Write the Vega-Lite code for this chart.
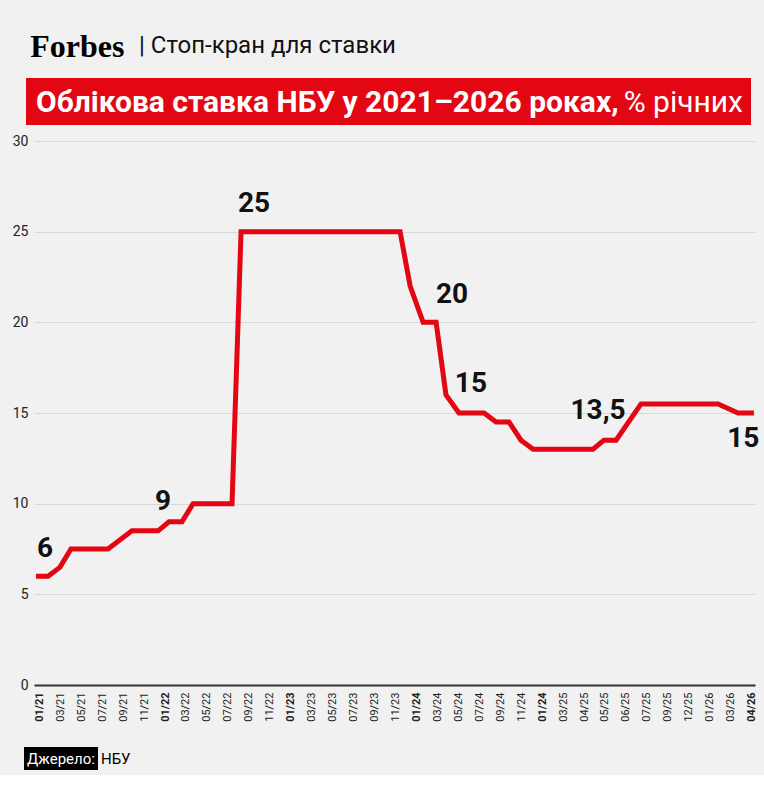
{
  "$schema": "https://vega.github.io/schema/vega-lite/v6.json",
  "description": "Облікова ставка НБУ у 2021–2026 роках",
  "background": "#f1f1f1",
  "padding": {"left": 12, "top": 31, "right": 5, "bottom": 5},
  "title": {
    "text": "Forbes",
    "font": "Liberation Serif, DejaVu Serif, serif",
    "fontSize": 32,
    "fontWeight": "bold",
    "color": "#000000",
    "anchor": "start",
    "dx": 18,
    "offset": -30
  },
  "bounds": "flush",
  "spacing": 16,
  "config": {
    "view": {"stroke": null}
  },
  "datasets": {
    "rate": [
      {"t": -0.16, "rate": 6},
      {"t": 0.42, "rate": 6},
      {"t": 0.99, "rate": 6.5},
      {"t": 1.51, "rate": 7.5},
      {"t": 3.28, "rate": 7.5},
      {"t": 4.42, "rate": 8.5},
      {"t": 5.67, "rate": 8.5},
      {"t": 6.19, "rate": 9},
      {"t": 6.81, "rate": 9},
      {"t": 7.34, "rate": 10},
      {"t": 9.2, "rate": 10},
      {"t": 9.63, "rate": 25},
      {"t": 17.22, "rate": 25},
      {"t": 17.7, "rate": 22},
      {"t": 18.32, "rate": 20},
      {"t": 18.94, "rate": 20},
      {"t": 19.41, "rate": 16},
      {"t": 20.03, "rate": 15},
      {"t": 21.23, "rate": 15},
      {"t": 21.8, "rate": 14.5},
      {"t": 22.42, "rate": 14.5},
      {"t": 22.99, "rate": 13.5},
      {"t": 23.57, "rate": 13},
      {"t": 26.43, "rate": 13},
      {"t": 26.95, "rate": 13.5},
      {"t": 27.53, "rate": 13.5},
      {"t": 28.72, "rate": 15.5},
      {"t": 32.4, "rate": 15.5},
      {"t": 33.35, "rate": 15},
      {"t": 34.11, "rate": 15}
    ],
    "notes": [
      {"t": 0.27, "v": 7.48, "label": "6"},
      {"t": 5.9, "v": 10.07, "label": "9"},
      {"t": 10.25, "v": 26.5, "label": "25"},
      {"t": 19.7, "v": 21.5, "label": "20"},
      {"t": 20.6, "v": 16.6, "label": "15"},
      {"t": 26.67, "v": 15.1, "label": "13,5"},
      {"t": 33.6, "v": 13.55, "label": "15"}
    ]
  },
  "vconcat": [
    {
      "width": 721,
      "height": 47,
      "title": {
        "text": "|  Стоп-кран для ставки",
        "font": "Roboto",
        "fontSize": 24,
        "fontWeight": "normal",
        "color": "#111111",
        "anchor": "start",
        "frame": "group",
        "dx": 105,
        "offset": 20
      },
      "data": {"values": [{"a": 0, "b": 1, "left": "Облікова ставка НБУ у 2021–2026 роках,", "right": "% річних"}]},
      "layer": [
        {
          "mark": {"type": "rect", "color": "#e30613"},
          "encoding": {
            "x": {"field": "a", "type": "quantitative", "scale": {"domain": [0, 1], "range": [-8, 717]}, "axis": null},
            "x2": {"field": "b"},
            "y": {"datum": 0, "type": "quantitative", "scale": {"domain": [0, 1]}, "axis": null},
            "y2": {"datum": 1}
          }
        },
        {
          "mark": {"type": "text", "font": "Roboto", "fontSize": 30, "fontWeight": "bold", "color": "#ffffff", "align": "left", "baseline": "middle", "dx": 10, "dy": 1},
          "encoding": {
            "x": {"field": "a", "type": "quantitative"},
            "y": {"datum": 0.5, "type": "quantitative"},
            "text": {"field": "left"}
          }
        },
        {
          "mark": {"type": "text", "font": "Roboto", "fontSize": 30, "fontWeight": "normal", "color": "#ffffff", "align": "right", "baseline": "middle", "dx": -8, "dy": 1},
          "encoding": {
            "x": {"field": "b", "type": "quantitative"},
            "y": {"datum": 0.5, "type": "quantitative"},
            "text": {"field": "right"}
          }
        }
      ]
    },
    {
      "width": 721,
      "height": 544,
      "layer": [
        {
          "data": {"name": "rate"},
          "mark": {"type": "line", "color": "#e30613", "strokeWidth": 5, "strokeJoin": "miter", "strokeCap": "butt"},
          "encoding": {
            "x": {
              "field": "t",
              "type": "quantitative",
              "scale": {"domain": [-0.253, 34.16], "nice": false, "zero": false},
              "axis": {
                "values": [0, 1, 2, 3, 4, 5, 6, 7, 8, 9, 10, 11, 12, 13, 14, 15, 16, 17, 18, 19, 20, 21, 22, 23, 24, 25, 26, 27, 28, 29, 30, 31, 32, 33, 34],
                "tickCount": 50,
                "labelExpr": "['01/21','03/21','05/21','07/21','09/21','11/21','01/22','03/22','05/22','07/22','09/22','11/22','01/23','03/23','05/23','07/23','09/23','11/23','01/24','03/24','05/24','07/24','09/24','11/24','01/24','03/25','04/25','05/25','06/25','07/25','09/25','12/25','01/26','03/26','04/26'][datum.value]",
                "labelAngle": -90,
                "labelAlign": "right",
                "labelBaseline": "middle",
                "labelFont": "Roboto",
                "labelFontSize": 11,
                "labelColor": "#222222",
                "labelFontWeight": {"condition": {"test": "indexof([0, 6, 12, 18, 24, 34], datum.value) >= 0", "value": "bold"}, "value": "normal"},
                "labelOverlap": false,
                "labelFlush": false,
                "labelPadding": 7,
                "ticks": false,
                "grid": false,
                "domainColor": "#333333",
                "domainWidth": 2,
                "title": null
              }
            },
            "y": {
              "field": "rate",
              "type": "quantitative",
              "scale": {"domain": [0, 30], "nice": false},
              "axis": {
                "values": [0, 5, 10, 15, 20, 25, 30],
                "grid": true,
                "gridColor": "#d9d9d9",
                "gridWidth": 1,
                "domain": false,
                "ticks": false,
                "labelFont": "Roboto",
                "labelFontSize": 14,
                "labelColor": "#222222",
                "labelPadding": 6,
                "title": null
              }
            }
          }
        },
        {
          "data": {"name": "notes"},
          "mark": {"type": "text", "font": "Roboto", "fontSize": 28, "fontWeight": "bold", "color": "#111111", "baseline": "middle"},
          "encoding": {
            "x": {"field": "t", "type": "quantitative"},
            "y": {"field": "v", "type": "quantitative"},
            "text": {"field": "label"}
          }
        }
      ]
    },
    {
      "width": 10,
      "height": 30,
      "data": {"values": [{}]},
      "mark": {"type": "text"},
      "encoding": {}
    },
    {
      "width": 74,
      "height": 23,
      "data": {"values": [{"a": 0, "m": 0.5, "b": 1, "key": "Джерело:", "src": "НБУ"}]},
      "layer": [
        {
          "mark": {"type": "rect", "color": "#000000"},
          "encoding": {
            "x": {"field": "a", "type": "quantitative", "scale": {"domain": [0, 1], "range": [-10, 64]}, "axis": null},
            "x2": {"field": "b"},
            "y": {"datum": 0, "type": "quantitative", "scale": {"domain": [0, 1]}, "axis": null},
            "y2": {"datum": 1}
          }
        },
        {
          "mark": {"type": "text", "font": "Roboto", "fontSize": 15, "color": "#ffffff", "align": "center", "baseline": "middle"},
          "encoding": {
            "x": {"field": "m", "type": "quantitative"},
            "y": {"datum": 0.5, "type": "quantitative"},
            "text": {"field": "key"}
          }
        },
        {
          "mark": {"type": "text", "font": "Roboto", "fontSize": 15, "color": "#000000", "align": "left", "baseline": "middle", "dx": 3},
          "encoding": {
            "x": {"field": "b", "type": "quantitative"},
            "y": {"datum": 0.5, "type": "quantitative"},
            "text": {"field": "src"}
          }
        }
      ]
    }
  ]
}
